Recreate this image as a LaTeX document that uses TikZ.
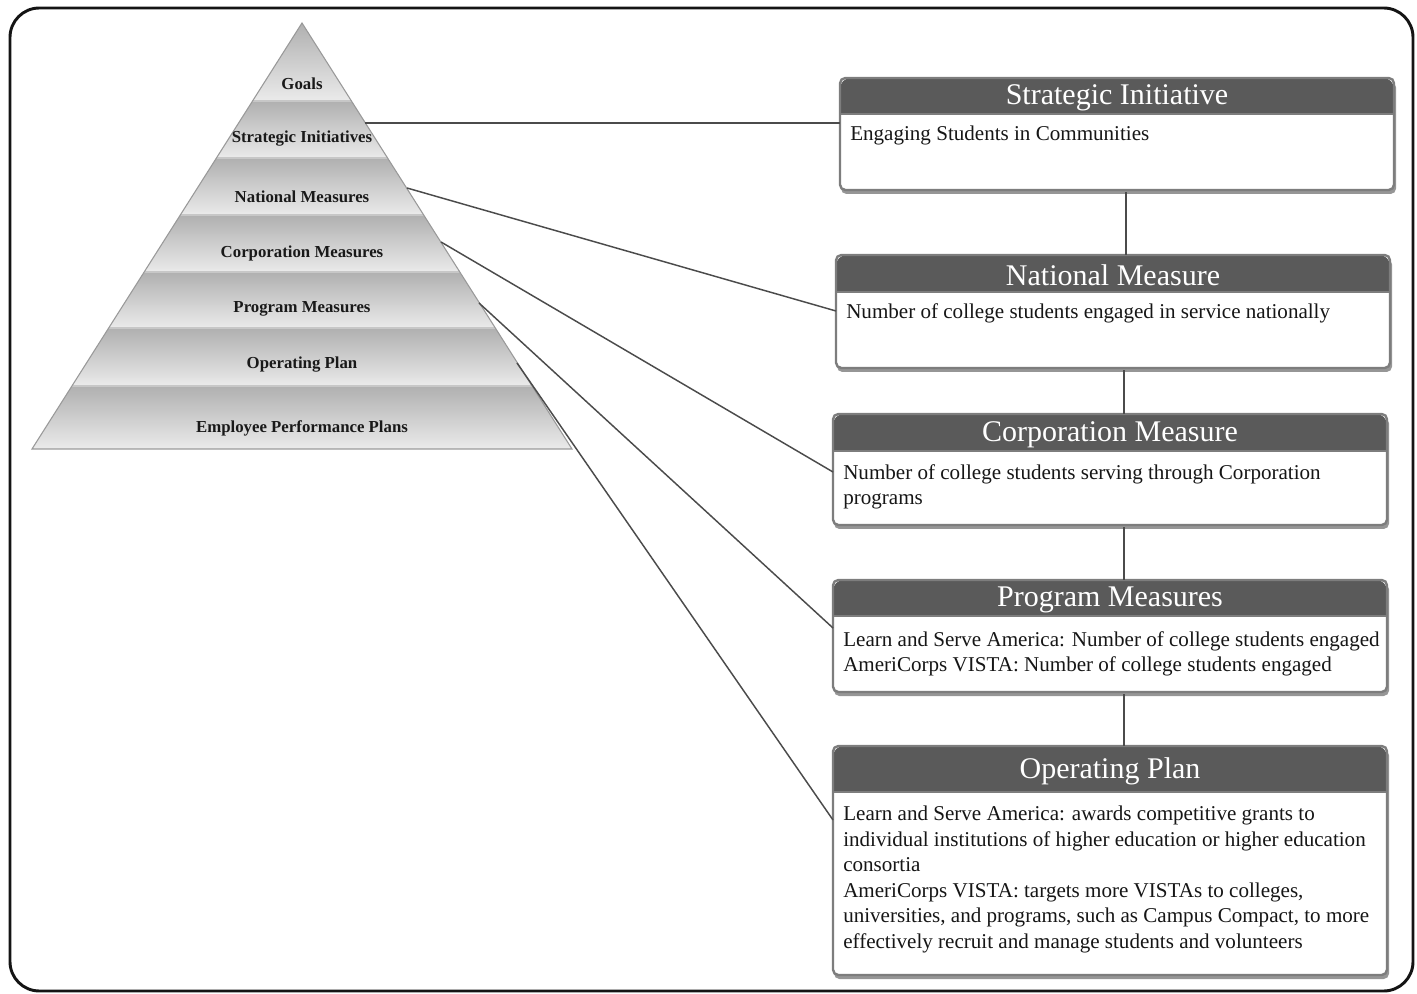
\documentclass[tikz,border=0pt]{standalone}
\usepackage{fontspec}
\setmainfont{Liberation Serif}
\usetikzlibrary{fit,calc}
\definecolor{headgray}{RGB}{90,90,90}
\definecolor{bordergray}{RGB}{125,125,125}
\definecolor{shadowgray}{RGB}{150,150,150}
\definecolor{textblack}{RGB}{22,22,22}
\definecolor{linkgray}{RGB}{75,75,75}
\newcommand\infobox[9]{%
  \fill[shadowgray, rounded corners=4pt] (#2+1,#3+4) rectangle (#5+2,#6+4);
  \fill[white, rounded corners=4pt] (#2,#3) rectangle (#5,#6);
  \fill[headgray] (#2,#4) [rounded corners=8pt] -- (#2,#3) -- (#5,#3) [sharp corners] -- (#5,#4) -- cycle;
  \draw[bordergray, line width=1.1pt] (#2,#4) -- (#5,#4);
  \draw[bordergray, line width=1.8pt, rounded corners=4pt] (#2,#3) rectangle (#5,#6);
  \coordinate (#1nw) at (#2,#3);
  \coordinate (#1se) at (#5,#6);
  \node[fit=(#1nw)(#1se), inner sep=0pt] (#1) {};
  \node[titletext] (#1h) at ({(#2+#5)/2},{(#3+#4)/2+2}) {#7};
  \node[bodytext] (#1t) at (#2+10,#4+#9) {#8};
}
\begin{document}
\begin{tikzpicture}[x=0.75pt,y=-0.75pt,
  frame/.style={line width=2.2pt, draw=black!92, rounded corners=22pt},
  band/.style={top color=black!31, bottom color=black!8, draw=none},
  bandline/.style={draw=black!22, line width=1pt},
  plabel/.style={font=\bfseries\fontsize{12.6}{14}\selectfont, text=black!90, inner sep=1pt},
  link/.style={draw=linkgray, line width=1.1pt},
  titletext/.style={font=\fontsize{22.5}{26}\selectfont, text=white, inner sep=0pt},
  bodytext/.style={font=\fontsize{15.8}{19.1}\selectfont, text=textblack, anchor=north west, align=left, inner sep=0pt}
]
\useasboundingbox (0,0) rectangle (1417,994);
\draw[frame] (10,8) rectangle (1413,991);

% pyramid bands
\shade[band] (302,23) -- (351.4,101) -- (252.6,101) -- cycle;
\shade[band] (252.6,101) -- (351.4,101) -- (387.6,158) -- (216.4,158) -- cycle;
\shade[band] (216.4,158) -- (387.6,158) -- (423.7,215) -- (180.3,215) -- cycle;
\shade[band] (180.3,215) -- (423.7,215) -- (459.8,272) -- (144.2,272) -- cycle;
\shade[band] (144.2,272) -- (459.8,272) -- (495.3,328) -- (108.7,328) -- cycle;
\shade[band] (108.7,328) -- (495.3,328) -- (532.1,386) -- (71.9,386) -- cycle;
\shade[band] (71.9,386) -- (532.1,386) -- (572,449) -- (32,449) -- cycle;
\draw[bandline] (252.6,101) -- (351.4,101);
\draw[bandline] (216.4,158) -- (387.6,158);
\draw[bandline] (180.3,215) -- (423.7,215);
\draw[bandline] (144.2,272) -- (459.8,272);
\draw[bandline] (108.7,328) -- (495.3,328);
\draw[bandline] (71.9,386) -- (532.1,386);
\draw[black!40, line width=0.8pt] (302,23) -- (572,449) -- (32,449) -- cycle;

\node[plabel] (gL) at (302,84) {Goals};
\node[plabel] (siL) at (302,139) {Strategic Initiatives};
\node[plabel] (nmL) at (302,197) {National Measures};
\node[plabel] (cmL) at (302,253) {Corporation Measures};
\node[plabel] (pmL) at (302,309) {Program Measures};
\node[plabel] (opL) at (302,365) {Operating Plan};
\node[plabel] (epL) at (302,428) {Employee Performance Plans};

% boxes
\infobox{b1}{840}{78}{114}{1394}{190}{Strategic Initiative}{Engaging Students in Communities}{12}
\infobox{b2}{836}{255}{292}{1390}{368}{National Measure}{Number of college students engaged in service nationally}{11}
\infobox{b3}{833}{414}{451}{1387}{525}{Corporation Measure}{Number of college students serving through Corporation\\programs}{13}
\infobox{b4}{833}{580}{616}{1387}{692}{Program Measures}{Learn and Serve America: Number of college students engaged\\AmeriCorps VISTA: Number of college students engaged}{15}
\infobox{b5}{833}{746}{792}{1387}{975}{Operating Plan}{Learn and Serve America: awards competitive grants to\\individual institutions of higher education or higher education\\consortia\\AmeriCorps VISTA: targets more VISTAs to colleges,\\universities, and programs, such as Campus Compact, to more\\effectively recruit and manage students and volunteers}{14}

% connector end points
\coordinate (pSI) at (365,123);
\coordinate (pNM) at (407,188);
\coordinate (pCM) at (441,242);
\coordinate (pPM) at (479,303);
\coordinate (pOP) at (517,363);
\coordinate (eSI) at (840,123);
\coordinate (eNM) at (836,311);
\coordinate (eCM) at (833,472);
\coordinate (ePM) at (833,628);
\coordinate (eOP) at (833,820);
\draw[link] (pSI) -- (eSI);
\draw[link] (pNM) -- (eNM);
\draw[link] (pCM) -- (eCM);
\draw[link] (pPM) -- (ePM);
\draw[link] (pOP) -- (eOP);

% vertical connectors
\draw[link] ($(b1.south)+(9,2)$) -- ($(b2.north)+(13,0)$);
\draw[link] ($(b2.south)+(11,2)$) -- ($(b3.north)+(14,0)$);
\draw[link] ($(b3.south)+(14,2)$) -- ($(b4.north)+(14,0)$);
\draw[link] ($(b4.south)+(14,2)$) -- ($(b5.north)+(14,0)$);
\end{tikzpicture}
\end{document}
